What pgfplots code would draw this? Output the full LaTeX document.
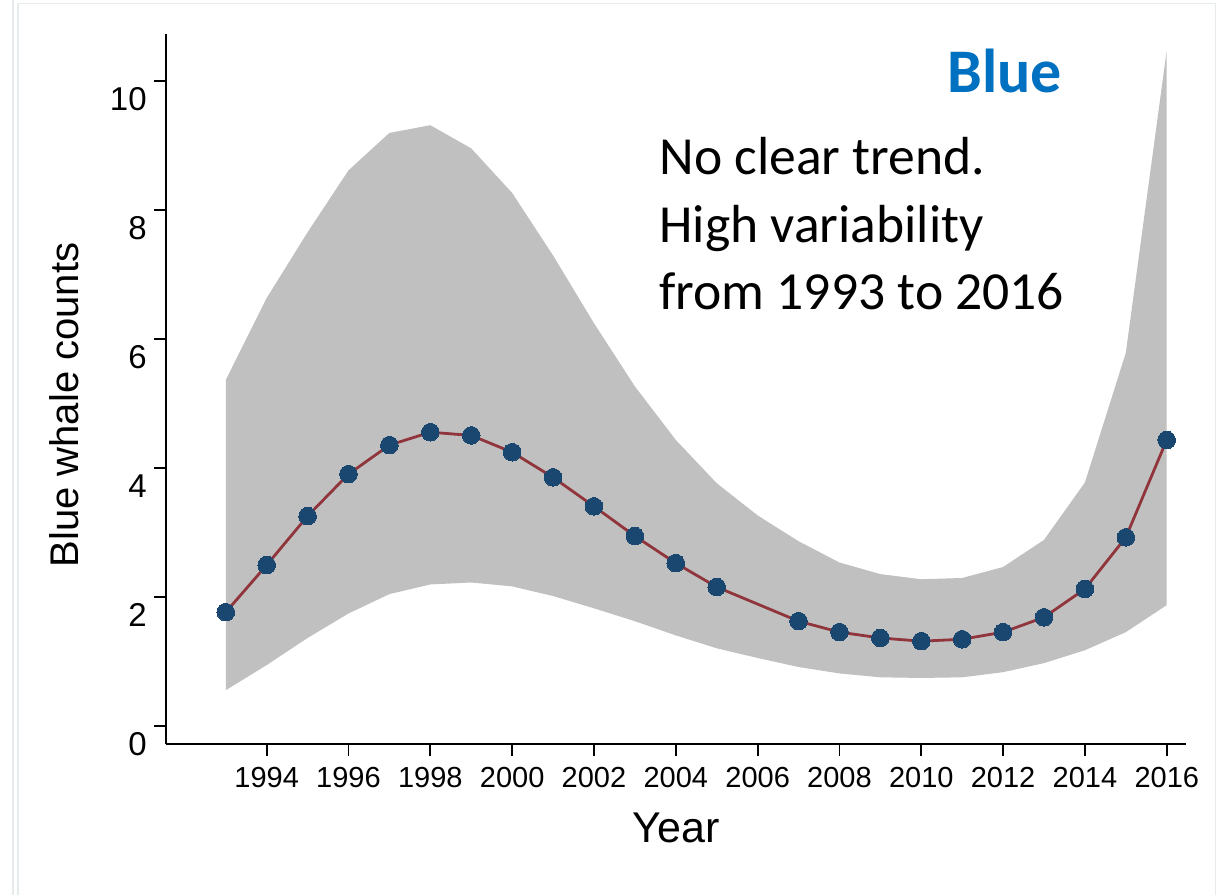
\documentclass[border=0pt]{standalone}
\usepackage{pgfplots}
\pgfplotsset{compat=1.18}
\usepackage{pgfplotstable}
\usepackage{fontspec}
\setmainfont{Liberation Sans}
\newfontfamily\calibri{Carlito}

\definecolor{navy}{RGB}{26,71,111}
\definecolor{maroon}{RGB}{144,53,59}
\definecolor{gsband}{RGB}{192,192,192}
\definecolor{titleblue}{RGB}{0,112,192}
\definecolor{framecol}{RGB}{230,236,238}

% 95% band: upper limit forward, lower limit back
\pgfplotstableread{
year y
1993 5.36
1994 6.63
1995 7.65
1996 8.61
1997 9.19
1998 9.31
1999 8.95
2000 8.26
2001 7.29
2002 6.24
2003 5.26
2004 4.43
2005 3.76
2006 3.26
2007 2.86
2008 2.53
2009 2.35
2010 2.27
2011 2.29
2012 2.46
2013 2.88
2014 3.77
2015 5.78
2016 10.47
2016 1.87
2015 1.45
2014 1.17
2013 0.97
2012 0.83
2011 0.75
2010 0.74
2009 0.75
2008 0.81
2007 0.91
2006 1.05
2005 1.20
2004 1.40
2003 1.62
2002 1.82
2001 2.01
2000 2.16
1999 2.22
1998 2.19
1997 2.04
1996 1.74
1995 1.36
1994 0.94
1993 0.55
}\bandtable

\pgfplotstableread{
year count
1993 1.76
1994 2.49
1995 3.25
1996 3.90
1997 4.35
1998 4.55
1999 4.50
2000 4.24
2001 3.85
2002 3.40
2003 2.94
2004 2.52
2005 2.15
2007 1.62
2008 1.45
2009 1.36
2010 1.31
2011 1.34
2012 1.45
2013 1.68
2014 2.12
2015 2.92
2016 4.43
}\counttable

\begin{document}
\begin{tikzpicture}
\useasboundingbox (0,0) rectangle (612.5pt,447.5pt);
\fill[white] (0,0) rectangle (612.5pt,447.5pt);
% faint frame
\draw[framecol, line width=0.8pt] (6.5pt,0) -- (6.5pt,447.5pt);
\draw[framecol, line width=0.8pt] (9pt,0) -- (9pt,445.8pt) -- (607.8pt,445.8pt) -- (607.8pt,0);

\begin{axis}[
  at={(83pt,75.5pt)}, anchor=south west,
  scale only axis,
  width=509.85pt, height=355pt,
  xmin=1991.539, xmax=2016.464,
  ymin=-0.284, ymax=10.724,
  axis x line*=bottom, axis y line*=left,
  axis line style={line width=1pt, black},
  tick align=outside,
  major tick length=6pt,
  tick style={line width=0.9pt, black},
  xtick={1994,1996,...,2016},
  ytick={0,2,...,10},
  /pgf/number format/assume math mode=true,
  xticklabel={\pgfmathprintnumber[1000 sep={}]{\tick}},
  xticklabel style={font=\fontsize{14.5}{17}\selectfont, inner sep=0pt, anchor=base, yshift=-15.5pt},
  yticklabel style={font=\fontsize{16.5}{19}\selectfont, inner sep=0pt, anchor=east, yshift=-9pt, xshift=-3.5pt},
  clip=false,
]
\addplot[fill=gsband, draw=none] table[x=year, y=y] {\bandtable} -- cycle;
\addplot[maroon, line width=1.4pt, mark=*, mark size=4.4pt,
  mark options={fill=navy, draw=navy, line width=0pt}] table[x=year, y=count] {\counttable};
\end{axis}

% axis titles
\node[anchor=base, inner sep=0pt, font=\fontsize{21.5}{25}\selectfont] at (338pt,26.5pt) {Year};
\node[anchor=base, rotate=90, inner sep=0pt, font=\fontsize{20}{24}\selectfont] at (39pt,245pt) {Blue whale counts};

% annotations
\node[anchor=base west, inner sep=0pt, text=titleblue, font=\calibri\bfseries\fontsize{31}{37}\selectfont] at (473.5pt,401.2pt) {Blue};
\node[anchor=base west, inner sep=0pt, font=\calibri\fontsize{26.8}{33.75}\selectfont] at (329.5pt,360pt) {No clear trend.};
\node[anchor=base west, inner sep=0pt, font=\calibri\fontsize{26.8}{33.75}\selectfont] at (329.5pt,326.25pt) {High variability};
\node[anchor=base west, inner sep=0pt, font=\calibri\fontsize{26.8}{33.75}\selectfont] at (329.5pt,292.5pt) {from 1993 to 2016};
\end{tikzpicture}
\end{document}
